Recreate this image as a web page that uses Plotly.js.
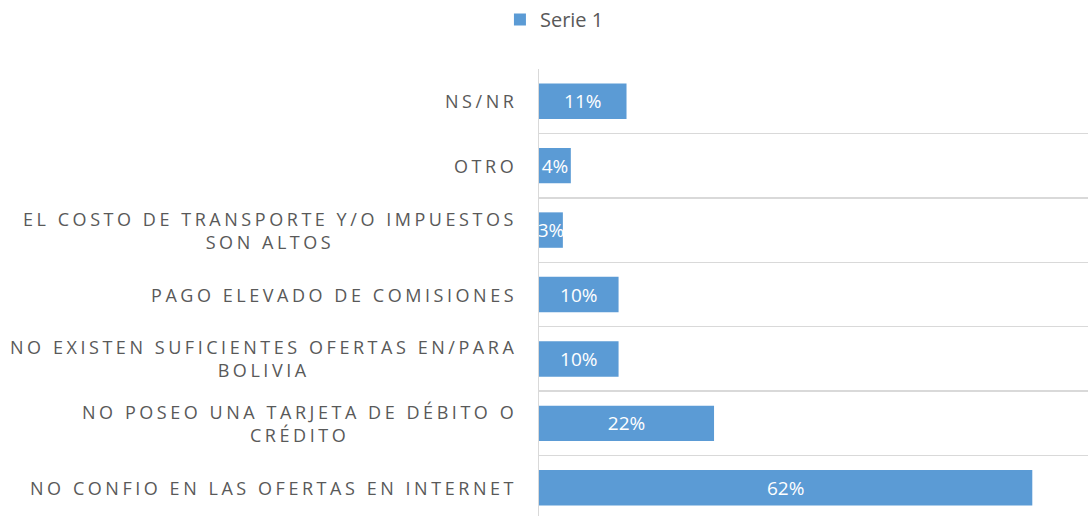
<!DOCTYPE html>
<html>
<head>
<meta charset="utf-8">
<script src="https://cdn.plot.ly/plotly-3.0.1.min.js"></script>
<style>
  html, body { margin: 0; padding: 0; overflow: hidden; background: #fff; }
  #chart { width: 1088px; height: 520px; }
  .annotation-text { letter-spacing: 3.55px; }
</style>
</head>
<body>
<div id="chart"></div>
<script>
// Categories listed bottom to top
var categories = [
  "NO CONFIO EN LAS OFERTAS EN INTERNET",
  "NO POSEO UNA TARJETA DE DÉBITO O<br>CRÉDITO",
  "NO EXISTEN SUFICIENTES OFERTAS EN/PARA<br>BOLIVIA",
  "PAGO ELEVADO DE COMISIONES",
  "EL COSTO DE TRANSPORTE Y/O IMPUESTOS<br>SON ALTOS",
  "OTRO",
  "NS/NR"
];
var values = [62, 22, 10, 10, 3, 4, 11];
var valueLabels = ["62%", "22%", "10%", "10%", "3%", "4%", "11%"];
var seriesName = "Serie 1";

var trace = {
  type: "bar",
  orientation: "h",
  name: seriesName,
  y: categories,
  x: values,
  text: valueLabels,
  textposition: "inside",
  insidetextanchor: "middle",
  textangle: 0,
  constraintext: "none",
  cliponaxis: true,
  textfont: { family: "Open Sans, sans-serif", size: 19, color: "#ffffff" },
  marker: { color: "#5B9BD5", line: { width: 0 } },
  hoverinfo: "none",
  showlegend: true
};

var annotations = categories.map(function (c) {
  return {
    xref: "paper", yref: "y",
    x: 0, y: c,
    xanchor: "right", yanchor: "middle",
    xshift: -20,
    text: c,
    align: "center",
    showarrow: false,
    font: { family: "Open Sans, sans-serif", size: 18, color: "#595959" }
  };
});

var layout = {
  width: 1088,
  height: 520,
  margin: { l: 539, r: 0, t: 69, b: 0, pad: 0 },
  paper_bgcolor: "#ffffff",
  plot_bgcolor: "#ffffff",
  bargap: 0.45,
  showlegend: true,
  legend: {
    orientation: "h",
    xref: "container", yref: "container",
    x: 0.4595, y: 1.0,
    xanchor: "left", yanchor: "top",
    font: { family: "Open Sans, sans-serif", size: 20, color: "#595959" },
    bgcolor: "rgba(0,0,0,0)"
  },
  xaxis: {
    range: [0, 69],
    showgrid: false,
    zeroline: false,
    showticklabels: false,
    showline: false,
    ticks: "",
    fixedrange: true
  },
  yaxis: {
    type: "category",
    tickson: "boundaries",
    showgrid: true,
    gridcolor: "#d9d9d9",
    gridwidth: 1.5,
    showline: true,
    linecolor: "#d9d9d9",
    linewidth: 1.5,
    showticklabels: false,
    ticks: "",
    fixedrange: true
  },
  annotations: annotations
};

Plotly.newPlot("chart", [trace], layout, { displayModeBar: false, staticPlot: true });
</script>
</body>
</html>
